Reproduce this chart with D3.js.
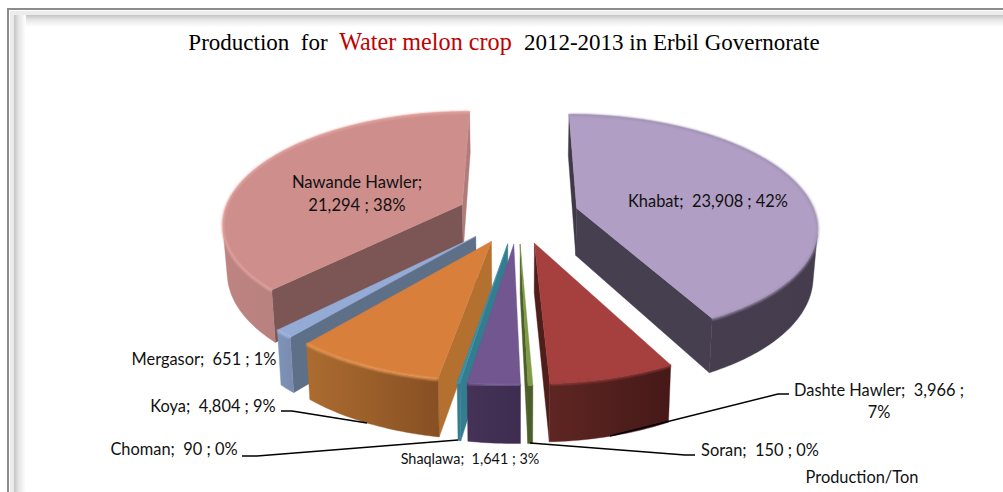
<!DOCTYPE html>
<html><head><meta charset="utf-8">
<script src="https://cdn.jsdelivr.net/npm/d3@7/dist/d3.min.js"></script>
<style>html,body{margin:0;padding:0;background:#fff;overflow:hidden}svg{display:block}text{white-space:pre}</style>
</head><body><svg id="c" width="1003" height="492"></svg>
<script>
const categories=["Khabat","Dashte Hawler","Soran","Shaqlawa","Choman","Koya","Mergasor","Nawande Hawler"];
const values=[23908,3966,150,1641,90,4804,651,21294];
const topColors=["#B09EC4","#A6403F","#7F9B46","#71568F","#3A8EA4","#D77F3B","#94ABD6","#CE8E8C"];
const rimFrom=["#463F50","#5E2622","#4C5E2A","#453357","#347C8F","#AC6C30","#7F94BA","#BD8482"];
const rimTo=["#453D4D","#451918","#4C5E2A","#3E2D50","#347C8F","#875023","#7A8DB0","#A87370"];
const sideStart=["#3F3847","#4F1E1B","#4C5E2A","#433154","#347C8F","#B4702E","#5E6F88","#7C5654"];
const sideEnd=["#463F50","#4F1E1B","#4C5E2A","#433154","#347C8F","#B4702E","#5E6F88","#B07C7A"];
const rimGlow=["#9E8FB0","#A03E3C","#9DB860","#8166A0","#4FA3B8","#F0A060","#A9BEE4","#E6A6A2"];
const drawOrder=[7,0,6,5,1,4,3,2];
const titleParts=[["Production  for  ","#000",23],["Water melon crop  ","#C00000",24.2],["2012-2013 in Erbil Governorate","#000",23]];
const labelLines=[
 {t:"Nawande Hawler;",x:357,y:188,a:"middle",s:16.6},
 {t:"21,294 ; 38%",x:357,y:211,a:"middle",s:16.6},
 {t:"Khabat;  23,908 ; 42%",x:708,y:207,a:"middle",s:16.4},
 {t:"Dashte Hawler;  3,966 ;",x:879,y:396,a:"middle",s:16.4},
 {t:"7%",x:879,y:418,a:"middle",s:16.4},
 {t:"Soran;  150 ; 0%",x:760,y:456,a:"middle",s:16.4},
 {t:"Production/Ton",x:862,y:483,a:"middle",s:16.4},
 {t:"Shaqlawa;  1,641 ; 3%",x:470,y:464,a:"middle",s:14.4},
 {t:"Choman;  90 ; 0%",x:174,y:455,a:"middle",s:16.4},
 {t:"Koya;  4,804 ; 9%",x:213,y:412,a:"middle",s:16.4},
 {t:"Mergasor;  651 ; 1%",x:204,y:365,a:"middle",s:16.4}];
const leaders=[[[610,436],[778,394],[789,394]],[[530,443],[685,455],[695,455]],[[367,423],[292,411],[281,411]],[[458,440],[257,456],[242,456]]];

const svg=d3.select("#c"),defs=svg.append("defs");
const W=1003,H=492;
// frame
function grad(id,x1,y1,x2,y2,stops){const g=defs.append("linearGradient").attr("id",id).attr("x1",x1).attr("y1",y1).attr("x2",x2).attr("y2",y2);
 stops.forEach(s=>g.append("stop").attr("offset",s[0]).attr("stop-color",s[1]));return `url(#${id})`;}
const gT=grad("fT",0,0,0,1,[[0,"#c4c4c4"],[.4,"#e6e6e6"],[1,"#ffffff"]]);
const gL=grad("fL",0,0,1,0,[[0,"#c4c4c4"],[.4,"#e6e6e6"],[1,"#ffffff"]]);
svg.append("rect").attr("x",8).attr("y",9).attr("width",W).attr("height",H).attr("fill","#fff").attr("stroke","#8c8c8c").attr("stroke-width",2);
svg.append("rect").attr("x",10).attr("y",11).attr("width",W).attr("height",4).attr("fill","#ececec");
svg.append("rect").attr("x",10).attr("y",11).attr("width",4).attr("height",H).attr("fill","#ececec");
svg.append("rect").attr("x",14).attr("y",15).attr("width",W).attr("height",12).attr("fill",gT);
svg.append("rect").attr("x",14).attr("y",15).attr("width",12).attr("height",H).attr("fill",gL);

// pie geometry
const pie=d3.pie().sort(null).startAngle(0).endAngle(2*Math.PI).value(d=>d);
const arcs=pie(values);
const cx=518,cy=215,a=239,b=110,p=.15,ex=.255,depth=50,q=.015;
const proj=(X,Y,dn)=>{const s=1/(1-p*Y);const k=dn?(1-q):1;return [cx+a*X*s*k,cy+b*Y*s+(dn?depth*s*.95:0)];};
const line=d3.line();
function sliceGeom(d){
 const m=(d.startAngle+d.endAngle)/2;
 const ox=ex*Math.sin(m),oy=-ex*Math.cos(m);
 const pt=(th,r,dn)=>proj(ox+r*Math.sin(th),oy-r*Math.cos(th),dn);
 const steps=Math.max(2,Math.ceil((d.endAngle-d.startAngle)/(Math.PI/180)));
 const ths=d3.range(steps+1).map(i=>d.startAngle+(d.endAngle-d.startAngle)*i/steps);
 return {pt,ths};
}
const area=P=>{let s=0;P.forEach((u,i)=>{const v=P[(i+1)%P.length];s+=u[0]*v[1]-v[0]*u[1];});return s/2;};
const g=svg.append("g");
const blur=defs.append("filter").attr("id","soft").attr("x","-10%").attr("y","-10%").attr("width","120%").attr("height","120%");
blur.append("feGaussianBlur").attr("stdDeviation",.8);
drawOrder.forEach(i=>{
 const d=arcs[i],{pt,ths}=sliceGeom(d);
 const sl=g.append("g").attr("class","slice").attr("data-name",categories[i]);
 const id="rim"+i;
 const xs=ths.map(t=>pt(t,1,false)[0]);
 const gx=defs.append("linearGradient").attr("id",id).attr("gradientUnits","userSpaceOnUse")
   .attr("x1",d3.min(xs)).attr("x2",d3.max(xs)).attr("y1",0).attr("y2",0);
 gx.append("stop").attr("offset",0).attr("stop-color",rimFrom[i]);
 gx.append("stop").attr("offset",1).attr("stop-color",rimTo[i]);
 // radial walls: with y down, a negative shoelace area faces the viewer
 const wall1=[pt(d.startAngle,0,false),pt(d.startAngle,1,false),pt(d.startAngle,1,true),pt(d.startAngle,0,true)];
 const wall2=[pt(d.endAngle,1,false),pt(d.endAngle,0,false),pt(d.endAngle,0,true),pt(d.endAngle,1,true)];
 if(area(wall1)<0) sl.append("path").attr("d",line(wall1)+"Z").attr("fill",sideStart[i]).attr("stroke",sideStart[i]).attr("stroke-width",.4);
 if(area(wall2)<0) sl.append("path").attr("d",line(wall2)+"Z").attr("fill",sideEnd[i]).attr("stroke",sideEnd[i]).attr("stroke-width",.4);
 // outer rim: the front-facing run
 let run=[];const runs=[];
 for(let k=0;k<ths.length-1;k++){
  const A=pt(ths[k],1,false),B=pt(ths[k+1],1,false),C=pt(ths[k+1],1,true),D=pt(ths[k],1,true);
  if(area([A,B,C,D])<0){ if(!run.length) run.push(ths[k]); run.push(ths[k+1]); }
  else if(run.length){runs.push(run);run=[];}
 }
 if(run.length) runs.push(run);
 runs.forEach(r=>{
  const P=r.map(t=>pt(t,1,false)).concat(r.slice().reverse().map(t=>pt(t,1,true)));
  sl.append("path").attr("d",line(P)+"Z").attr("fill",`url(#${id})`).attr("stroke",`url(#${id})`).attr("stroke-width",.4);
 });
 // top
 const top=[pt(d.startAngle,0,false)].concat(ths.map(t=>pt(t,1,false)));
 sl.append("path").attr("d",line(top)+"Z").attr("fill",topColors[i]).attr("stroke",topColors[i]).attr("stroke-width",.4);
 // bevel
 sl.append("path").attr("d",line(ths.map(t=>{const u=pt(t,1,false);return [u[0],u[1]+.6];}))).attr("fill","none")
   .attr("stroke",rimGlow[i]).attr("stroke-width",2).attr("filter","url(#soft)");
});
// leaders
svg.append("g").selectAll("path").data(leaders).join("path").attr("d",d=>line(d)).attr("fill","none").attr("stroke","#000").attr("stroke-width",1.3);
// labels
svg.append("g").selectAll("text").data(labelLines).join("text").attr("x",d=>d.x).attr("y",d=>d.y)
 .attr("text-anchor",d=>d.a).attr("font-family","Lato, Carlito, sans-serif").attr("font-size",d=>d.s).attr("fill","#111").text(d=>d.t);
// title
const ti=svg.append("text").attr("x",504).attr("y",50).attr("text-anchor","middle").attr("font-family","'Liberation Serif','Times New Roman',serif");
ti.selectAll("tspan").data(titleParts).join("tspan").attr("fill",d=>d[1]).attr("font-size",d=>d[2]).text(d=>d[0]);
</script></body></html>
